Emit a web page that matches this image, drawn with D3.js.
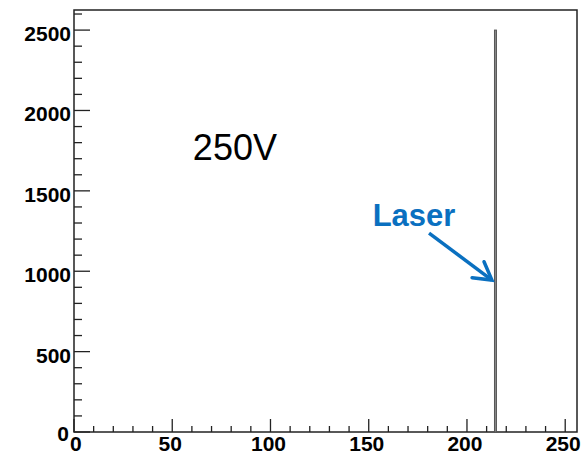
<!DOCTYPE html>
<html lang="en">
<head>
  <meta charset="UTF-8">
  <title>250V – Laser</title>
  <script src="https://d3js.org/d3.v7.min.js"></script>
  <style>
    body { margin: 0; background: #fff; font-family: "Liberation Sans", Arial, sans-serif; }
    .tick-label { font-size: 21px; font-weight: bold; fill: #000; }
    .frame { fill: none; stroke: #222; stroke-width: 1.5; }
    .bin { fill: #8a8a8a; stroke: #555; stroke-width: 1; }
  </style>
</head>
<body>
  <svg width="585" height="454"></svg>

  <script>
    // histogram content
    const binLow = [214];
    const binWidth = [1];
    const counts = [2500];

    const xMajor = [0, 50, 100, 150, 200, 250];
    const yMajor = [0, 500, 1000, 1500, 2000, 2500];

    const svg = d3.select("svg");
    const margin = { top: 10, right: 8, bottom: 22, left: 74 };
    const width = +svg.attr("width") - margin.left - margin.right;
    const height = +svg.attr("height") - margin.top - margin.bottom;
    const g = svg.append("g").attr("transform", `translate(${margin.left},${margin.top})`);

    const x = d3.scaleLinear().domain([0, 256]).range([0, width]);
    const y = d3.scaleLinear().domain([0, 2625]).range([height, 0]);

    // frame
    g.append("rect").attr("class", "frame")
      .attr("x", 0).attr("y", 0).attr("width", width).attr("height", height);

    // bins
    g.selectAll(".bin")
      .data(counts)
      .join("rect")
      .attr("class", "bin")
      .attr("x", (d, i) => x(binLow[i]))
      .attr("y", d => y(d))
      .attr("width", (d, i) => x(binLow[i] + binWidth[i]) - x(binLow[i]))
      .attr("height", d => height - y(d));

    // ticks (ROOT style, inside the frame)
    const xMinor = d3.range(0, 256, 10).filter(v => v % 50 !== 0);
    const yMinor = d3.range(0, 2625, 100).filter(v => v % 500 !== 0);

    g.selectAll(".xt")
      .data(xMajor.map(v => [v, 13]).concat(xMinor.map(v => [v, 6])))
      .join("line")
      .attr("x1", d => x(d[0])).attr("x2", d => x(d[0]))
      .attr("y1", height).attr("y2", d => height - d[1])
      .attr("stroke", "#222").attr("stroke-width", 1.3);

    g.selectAll(".yt")
      .data(yMajor.map(v => [v, 16]).concat(yMinor.map(v => [v, 8])))
      .join("line")
      .attr("y1", d => y(d[0])).attr("y2", d => y(d[0]))
      .attr("x1", 0).attr("x2", d => d[1])
      .attr("stroke", "#222").attr("stroke-width", 1.3);

    g.selectAll(".xl")
      .data(xMajor)
      .join("text")
      .attr("class", "tick-label")
      .attr("x", d => x(d) + (d === 0 ? 0 : -2))
      .attr("y", height + 19)
      .attr("text-anchor", d => d === 0 ? "start" : "middle")
      .attr("dx", d => d === 0 ? -4 : 0)
      .text(d => d);

    g.selectAll(".yl")
      .data(yMajor)
      .join("text")
      .attr("class", "tick-label")
      .attr("x", d => d === 0 ? -5 : -3)
      .attr("y", d => y(d) + 11)
      .attr("dy", d => d === 0 ? -2 : 0)
      .attr("text-anchor", "end")
      .text(d => d);

    // annotations
    g.append("text")
      .attr("x", x(60.5)).attr("y", y(1691))
      .attr("font-size", 36).attr("fill", "#000")
      .text("250V");

    g.append("text")
      .attr("x", x(152)).attr("y", y(1281))
      .attr("font-size", 31).attr("font-weight", "bold").attr("fill", "#0a70c0")
      .text("Laser");

    const a0 = [x(180.7), y(1237)], a1 = [x(212.7), y(945)];
    const ang = Math.atan2(a1[1] - a0[1], a1[0] - a0[0]);
    const wing = 20, spread = Math.PI / 6;
    g.append("line")
      .attr("x1", a0[0]).attr("y1", a0[1]).attr("x2", a1[0]).attr("y2", a1[1])
      .attr("stroke", "#0a70c0").attr("stroke-width", 3.5);
    g.append("path")
      .attr("d", d3.line()([
        [a1[0] - wing * Math.cos(ang - spread), a1[1] - wing * Math.sin(ang - spread)],
        a1,
        [a1[0] - wing * Math.cos(ang + spread), a1[1] - wing * Math.sin(ang + spread)]
      ]))
      .attr("fill", "none").attr("stroke", "#0a70c0").attr("stroke-width", 3.5)
      .attr("stroke-linejoin", "miter").attr("stroke-linecap", "round");
  </script>
</body>
</html>
